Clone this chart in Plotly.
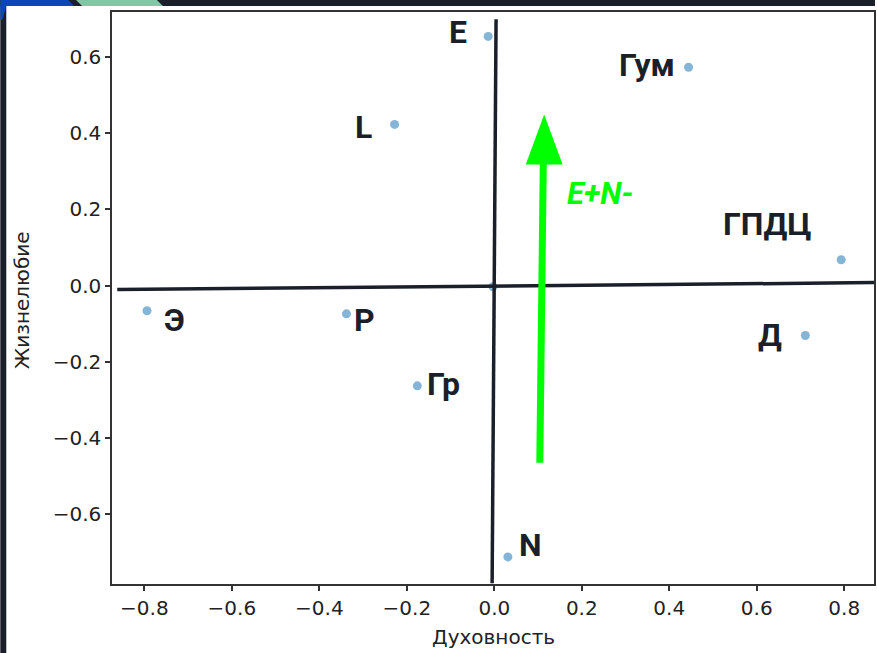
import plotly.graph_objects as go

# factor scores (x = Духовность, y = Жизнелюбие)
point_x = [-0.014, 0.444, -0.228, 0.793, -0.794, -0.338, -0.003, 0.711, -0.176, 0.031]
point_y = [0.654, 0.573, 0.423, 0.068, -0.066, -0.074, -0.003, -0.131, -0.263, -0.712]

# group labels and where they were written next to the points
labels = ["E", "Гум", "L", "ГПДЦ", "Э", "P", "Д", "Гр", "N"]
label_x = [-0.083, 0.348, -0.299, 0.624, -0.732, -0.297, 0.631, -0.117, 0.082]
label_y = [0.665, 0.578, 0.415, 0.163, -0.089, -0.089, -0.129, -0.258, -0.681]

# hand-drawn cross through the origin
hline_x = [-0.862, 0.868]
hline_y = [-0.0105, 0.0079]
vline_x = [0.004, -0.005]
vline_y = [0.699, -0.781]

# green direction arrow
arrow_start = (0.104, -0.465)
arrow_end = (0.114, 0.449)
arrow_text = "E+N-"
arrow_text_pos = (0.241, 0.242)

xticks = [-0.8, -0.6, -0.4, -0.2, 0.0, 0.2, 0.4, 0.6, 0.8]
yticks = [-0.6, -0.4, -0.2, 0.0, 0.2, 0.4, 0.6]
xrange_ = [-0.874, 0.868]
yrange_ = [-0.783, 0.718]

W, H = 877, 653
L, R, T, B = 112, 1, 12, 69
DARK = "#1b1f2a"

pw = W - L - R
ph = H - T - B
px_per_x = pw / (xrange_[1] - xrange_[0])
px_per_y = ph / (yrange_[1] - yrange_[0])


def px(x):
    return (x - L) / pw


def py(y):
    return (H - B - y) / ph


fig = go.Figure()

fig.add_trace(go.Scatter(
    x=point_x, y=point_y, mode="markers",
    marker=dict(size=9, color="#1f77b4", opacity=0.55, line=dict(width=0)),
    showlegend=False, hoverinfo="x+y",
))

shapes = []
# cross lines
shapes.append(dict(type="line", xref="x", yref="y", x0=hline_x[0], y0=hline_y[0], x1=hline_x[1], y1=hline_y[1],
                   line=dict(color=DARK, width=3.5)))
shapes.append(dict(type="line", xref="x", yref="y", x0=vline_x[0], y0=vline_y[0], x1=vline_x[1], y1=vline_y[1],
                   line=dict(color=DARK, width=3.5)))

# arrow shaft + head (head size in pixels)
head_len = 50 / px_per_y
head_half = 18.5 / px_per_x
ax0, ay0 = arrow_start
ax1, ay1 = arrow_end
shapes.append(dict(type="line", xref="x", yref="y", x0=ax0, y0=ay0, x1=ax1 - 0.002, y1=ay1 - head_len + 0.01,
                   line=dict(color="#00ff00", width=7)))
shapes.append(dict(type="path", xref="x", yref="y",
                   path=f"M {ax1 - head_half},{ay1 - head_len} L {ax1 + head_half},{ay1 - head_len} L {ax1},{ay1} Z",
                   fillcolor="#00ff00", line=dict(width=0)))

# slide frame (dark strip on top and left with coloured accents)
shapes.append(dict(type="rect", xref="paper", yref="paper", x0=px(0), x1=px(W), y0=py(6), y1=py(0),
                   fillcolor=DARK, line=dict(width=0), layer="above"))
shapes.append(dict(type="rect", xref="paper", yref="paper", x0=px(0), x1=px(6), y0=py(H), y1=py(0),
                   fillcolor=DARK, line=dict(width=0), layer="above"))
shapes.append(dict(type="path", xref="paper", yref="paper",
                   path=f"M {px(0)},{py(0)} L {px(68)},{py(0)} L {px(74)},{py(6)} L {px(6)},{py(6)} L {px(2)},{py(20)} L {px(0)},{py(20)} Z",
                   fillcolor="#0b47b9", line=dict(width=0), layer="above"))
shapes.append(dict(type="path", xref="paper", yref="paper",
                   path=f"M {px(76)},{py(0)} L {px(157)},{py(0)} L {px(163)},{py(6)} L {px(82)},{py(6)} Z",
                   fillcolor="#7fc8a5", line=dict(width=0), layer="above"))

annotations = []
for t, lx, ly in zip(labels, label_x, label_y):
    annotations.append(dict(x=lx, y=ly, xref="x", yref="y", text=f"<b>{t}</b>", showarrow=False,
                            font=dict(family="Roboto", size=32, color=DARK), xanchor="center", yanchor="middle"))
annotations.append(dict(x=arrow_text_pos[0], y=arrow_text_pos[1], xref="x", yref="y",
                        text=f"<b><i>{arrow_text}</i></b>", showarrow=False,
                        font=dict(family="Roboto", size=31, color="#00ff00"), xanchor="center", yanchor="middle"))
annotations.append(dict(x=px(495), y=py(637), xref="paper", yref="paper", text="Духовность", showarrow=False,
                        font=dict(family="DejaVu Sans", size=20, color="#222"), xanchor="center", yanchor="middle"))
annotations.append(dict(x=px(22), y=py(300), xref="paper", yref="paper", text="Жизнелюбие", showarrow=False,
                        textangle=-90, font=dict(family="DejaVu Sans", size=20, color="#222"),
                        xanchor="center", yanchor="middle"))

axis_common = dict(showgrid=False, zeroline=False, showline=True, linecolor="#333", linewidth=1.5, mirror=True,
                   ticks="outside", ticklen=5, tickwidth=1.5, tickcolor="#333",
                   tickfont=dict(family="DejaVu Sans", size=20, color="#222"))

fig.update_layout(
    width=W, height=H,
    margin=dict(l=L, r=R, t=T, b=B),
    paper_bgcolor="white", plot_bgcolor="white",
    xaxis=dict(range=xrange_, tickvals=xticks, ticktext=[f"{v:.1f}".replace("-", "−") for v in xticks], **axis_common),
    yaxis=dict(range=yrange_, tickvals=yticks, ticktext=[f"{v:.1f}".replace("-", "−") for v in yticks], **axis_common),
    shapes=shapes, annotations=annotations,
    showlegend=False,
)

fig.write_html("out.html", config={"displayModeBar": False},
               post_script="document.body.style.margin='0';document.body.style.overflow='hidden';")
